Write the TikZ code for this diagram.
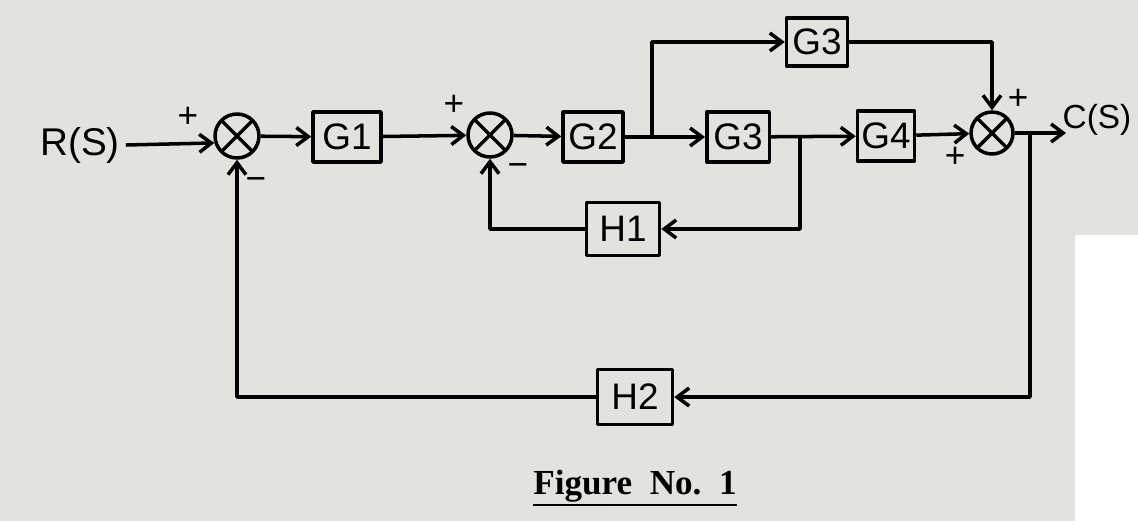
\documentclass[tikz,border=0pt]{standalone}
\usepackage{fontspec}
\setmainfont{Liberation Sans}
\newfontfamily\capfont{Liberation Serif}
\usetikzlibrary{arrows.meta,calc}
\definecolor{paper}{RGB}{226,226,223}

\tikzset{
  block/.style={draw, line width=2pt, minimum width=1.25cm, minimum height=1cm,
    inner sep=0pt, font=\fontsize{21}{23}\selectfont},
  sumnode/.style={draw, circle, line width=2pt, minimum size=0.88cm, inner sep=0pt,
    path picture={\draw[line width=2pt]
      (path picture bounding box.south west) -- (path picture bounding box.north east)
      (path picture bounding box.north west) -- (path picture bounding box.south east);}},
  sign/.style={inner sep=0pt, font=\fontsize{20}{20}\selectfont},
  sig/.style={line width=2pt, ->},
}

\begin{document}
\begin{tikzpicture}[x=0.02cm, y=-0.02cm, >={Straight Barb[length=2.4mm,width=3.6mm]}, line join=round]
    % paper
    \fill[paper] (0,0) rectangle (1138,521);
    \fill[white] (1075,235) rectangle (1138,521);
    \useasboundingbox (0,0) rectangle (1138,521);

    % forward path
    \node[font=\fontsize{22}{24}\selectfont] (in) at (80,145) {R(S)};
    \node[sumnode] (sumA) at (237,136) {};
    \node[block, minimum width=1.36cm] (g1) at (347,137) {G1};
    \node[sumnode] (sumB) at (490,135) {};
    \node[block, minimum width=1.2cm] (g2) at (593,137) {G2};
    \node[block] (g3b) at (738,137) {G3};
    \node[block, minimum width=1.14cm] (g4) at (886,136) {G4};
    \node[sumnode, minimum size=0.84cm] (sumC) at (992,133) {};
    \node[font=\fontsize{19}{21}\selectfont] (out) at (1097,120) {C(S)};

    % parallel branch
    \node[block, minimum width=1.22cm, minimum height=0.96cm] (g3a) at (817,42) {G3};

    % feedback blocks
    \node[block, minimum width=1.46cm, minimum height=1.06cm] (h1) at (623,229) {H1};
    \node[block, minimum width=1.5cm, minimum height=1.1cm] (h2) at (635,397) {H2};

    % take-off points
    \coordinate (brA) at (652,137);
    \coordinate (brB) at (800,137);
    \coordinate (brC) at (1030,133);
    \coordinate (end) at (1066,133);

    % signs
    \node[sign] (pA) at (188,117) {+};
    \node[sign] (mA) at (256,184) {−};
    \node[sign] (pB) at (454,105) {+};
    \node[sign] (mB) at (518,170) {−};
    \node[sign] (pC1) at (1018,99) {+};
    \node[sign] (pC2) at (955,157) {+};

    % connectors
    \draw[sig] (in.east) -- (sumA.197);
    \draw[sig] (sumA) -- (g1);
    \draw[sig] (g1) -- (sumB);
    \draw[sig] (sumB) -- (g2);
    \draw[sig] (g2) -- (g3b);
    \draw[sig] (brA) |- (g3a);
    \draw[sig] (g3a) -| (sumC);
    \draw[sig] (g3b) -- (g4);
    \draw[sig] (g4) -- (sumC);
    \draw[sig] (sumC) -- (end);
    \draw[sig] (brB) |- (h1);
    \draw[sig] (h1) -| (sumB);
    \draw[sig] (brC) |- (h2);
    \draw[sig] (h2) -| (sumA);

    % caption
    \node[inner sep=0pt, font=\capfont\bfseries\fontsize{20}{22}\selectfont] (cap) at (635,486) {Figure\ \ No.\ \ 1};
    \draw[line width=1.2pt] ([yshift=-0.22cm]cap.base west) -- ([yshift=-0.22cm]cap.base east);
\end{tikzpicture}
\end{document}
